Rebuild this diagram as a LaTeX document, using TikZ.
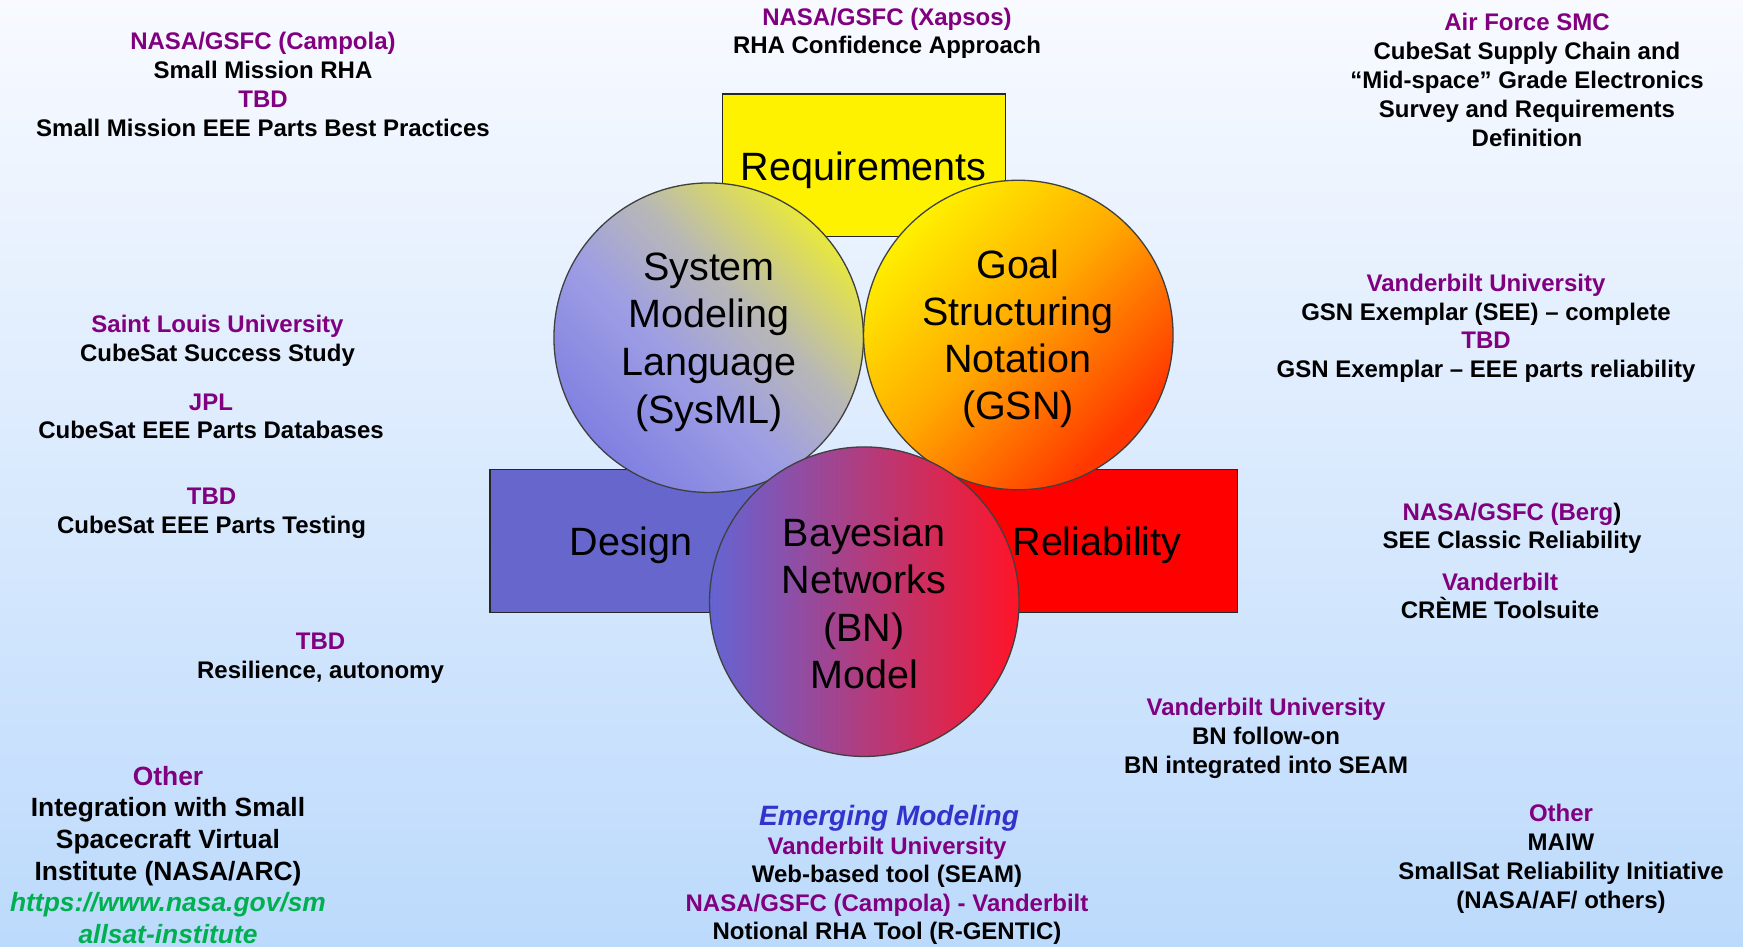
\documentclass[tikz,border=0pt]{standalone}
\usepackage{fontspec}
\setmainfont{Liberation Sans}

\definecolor{orgpurple}{RGB}{128,0,128}
\definecolor{linkgreen}{RGB}{0,176,80}
\definecolor{emblue}{RGB}{51,51,204}
\definecolor{bgtop}{RGB}{248,250,255}
\definecolor{bgbot}{RGB}{188,218,252}
\definecolor{designblue}{RGB}{102,102,204}
\definecolor{sysA}{RGB}{232,232,62}
\definecolor{sysB}{RGB}{184,184,182}
\definecolor{sysL}{RGB}{158,158,228}
\definecolor{sysC}{RGB}{128,128,226}
\definecolor{gsnA}{RGB}{255,240,0}
\definecolor{gsnB}{RGB}{255,170,0}
\definecolor{gsnC}{RGB}{255,55,0}
\definecolor{bnA}{RGB}{100,100,212}
\definecolor{bnB}{RGB}{200,72,150}
\definecolor{bnC}{RGB}{255,20,40}

% SysML bubble: lavender over most of the disc, olive-yellow towards one side
\pgfdeclareverticalshading{sysshade}{100bp}{color(0bp)=(sysC); color(25bp)=(sysC);
  color(44bp)=(sysL); color(58bp)=(sysB); color(75bp)=(sysA); color(100bp)=(sysA)}
% GSN bubble: yellow through orange to red-orange
\pgfdeclareverticalshading{gsnshade}{100bp}{color(0bp)=(gsnC); color(27bp)=(gsnC);
  color(52bp)=(gsnB); color(75bp)=(gsnA); color(100bp)=(gsnA)}

\newcommand{\org}[1]{\textcolor{orgpurple}{#1}}
\newcommand{\firstline}[1]{\rule{0pt}{#1pt}}

\tikzset{
  x=1pt, y=-1pt,
  infoblock/.style={anchor=north, inner sep=0pt, align=center,
    font=\bfseries\fontsize{24}{#1}\selectfont},
  infoblock/.default=29,
  panel/.style={draw=black!85, line width=1.3pt, inner sep=0pt},
  bubble/.style={circle, draw=black!75, line width=1.3pt, inner sep=0pt,
    minimum size=309.5pt},
  bubbletext/.style={anchor=north, inner sep=0pt, align=center,
    font=\fontsize{39.5}{#1}\selectfont},
  bubbletext/.default=47.6,
  paneltext/.style={anchor=base, inner sep=0pt, font=\fontsize{39.5}{47}\selectfont}
}

\begin{document}
\begin{tikzpicture}
\useasboundingbox (0,0) rectangle (1743,947);
\shade[top color=bgtop, bottom color=bgbot] (0,0) rectangle (1743,947);

% the three panels behind the bubbles
\node[panel, fill=yellow, minimum width=283.4pt, minimum height=142.7pt] (req) at (864,165.35) {};
\node[panel, fill=designblue, minimum width=374pt, minimum height=143pt] (design) at (677,540.8) {};
\node[panel, fill=red, minimum width=373.3pt, minimum height=143pt] (rel) at (1050.65,540.8) {};

% the three modeling bubbles
\node[bubble, shade, shading=sysshade, shading angle=-45] (sysml) at (708.7,337.7) {};
\node[bubble, shade, shading=gsnshade, shading angle=45] (gsn) at (1018.3,335) {};
\node[bubble, left color=bnA, middle color=bnB, right color=bnC] (bn) at (864.3,601.7) {};

% labels inside the panels and bubbles
\node[paneltext] (reqtext) at (863.7,180) {Requirements};
\node[paneltext] (designtext) at (631,555) {Design};
\node[paneltext] (reltext) at (1097,555) {Reliability};
\node[bubbletext] (sysmltext) at (709,240) {\firstline{40}System\\Modeling\\Language\\(SysML)};
\node[bubbletext=47] (gsntext) at (1018,238) {\firstline{40}Goal\\Structuring\\Notation\\(GSN)};
\node[bubbletext=47.4] (bntext) at (864,506) {\firstline{40}Bayesian\\Networks\\(BN)\\Model};

% contributors around the diagram
\node[infoblock] (campola) at (263,25) {\firstline{24}\org{NASA/GSFC (Campola)}\\Small Mission RHA\\\org{TBD}\\Small Mission EEE Parts Best Practices};
\node[infoblock=28] (xapsos) at (887,1) {\firstline{24}\org{NASA/GSFC (Xapsos)}\\RHA Confidence Approach};
\node[infoblock] (smc) at (1527,6) {\firstline{24}\org{Air Force SMC}\\CubeSat Supply Chain and\\“Mid-space” Grade Electronics\\Survey and Requirements\\Definition};
\node[infoblock=28.5] (vugsn) at (1486,267.7) {\firstline{24}\org{Vanderbilt University}\\GSN Exemplar (SEE) – complete\\\org{TBD}\\GSN Exemplar – EEE parts reliability};
\node[infoblock=28.3] (berg) at (1512,496) {\firstline{24}\org{NASA/GSFC (Berg})\\SEE Classic Reliability};
\node[infoblock=27.6] (creme) at (1500,566.7) {\firstline{24}\org{Vanderbilt}\\CRÈME Toolsuite};
\node[infoblock] (slu) at (217.5,308) {\firstline{24}\org{Saint Louis University}\\CubeSat Success Study};
\node[infoblock=28] (jpl) at (211,386) {\firstline{24}\org{JPL}\\CubeSat EEE Parts Databases};
\node[infoblock=28.9] (testing) at (211.5,480.4) {\firstline{24}\org{TBD}\\CubeSat EEE Parts Testing};
\node[infoblock] (resil) at (320.5,625) {\firstline{24}\org{TBD}\\Resilience, autonomy};
\node[infoblock] (vubn) at (1266,691.6) {\firstline{24}\org{Vanderbilt University}\\BN follow-on\\BN integrated into SEAM};
\node[anchor=north, inner sep=0pt, align=center, font=\bfseries\fontsize{26.4}{31.6}\selectfont] (ssvi) at (168,759)
  {\firstline{26}\org{Other}\\Integration with Small\\Spacecraft Virtual\\Institute (NASA/ARC)\\
   \textcolor{linkgreen}{\itshape https://www.nasa.gov/sm}\\\textcolor{linkgreen}{\itshape allsat-institute}};
\node[anchor=base, inner sep=0pt, text=emblue, font=\bfseries\itshape\fontsize{28}{32}\selectfont] (emerging) at (889,825) {Emerging Modeling};
\node[infoblock=28.5] (seam) at (887,830) {\firstline{24}\org{Vanderbilt University}\\Web-based tool (SEAM)\\\org{NASA/GSFC (Campola) - Vanderbilt}\\Notional RHA Tool (R-GENTIC)};
\node[infoblock=28.8] (maiw) at (1561,797.7) {\firstline{24}\org{Other}\\MAIW\\SmallSat Reliability Initiative\\(NASA/AF/ others)};
\end{tikzpicture}
\end{document}
